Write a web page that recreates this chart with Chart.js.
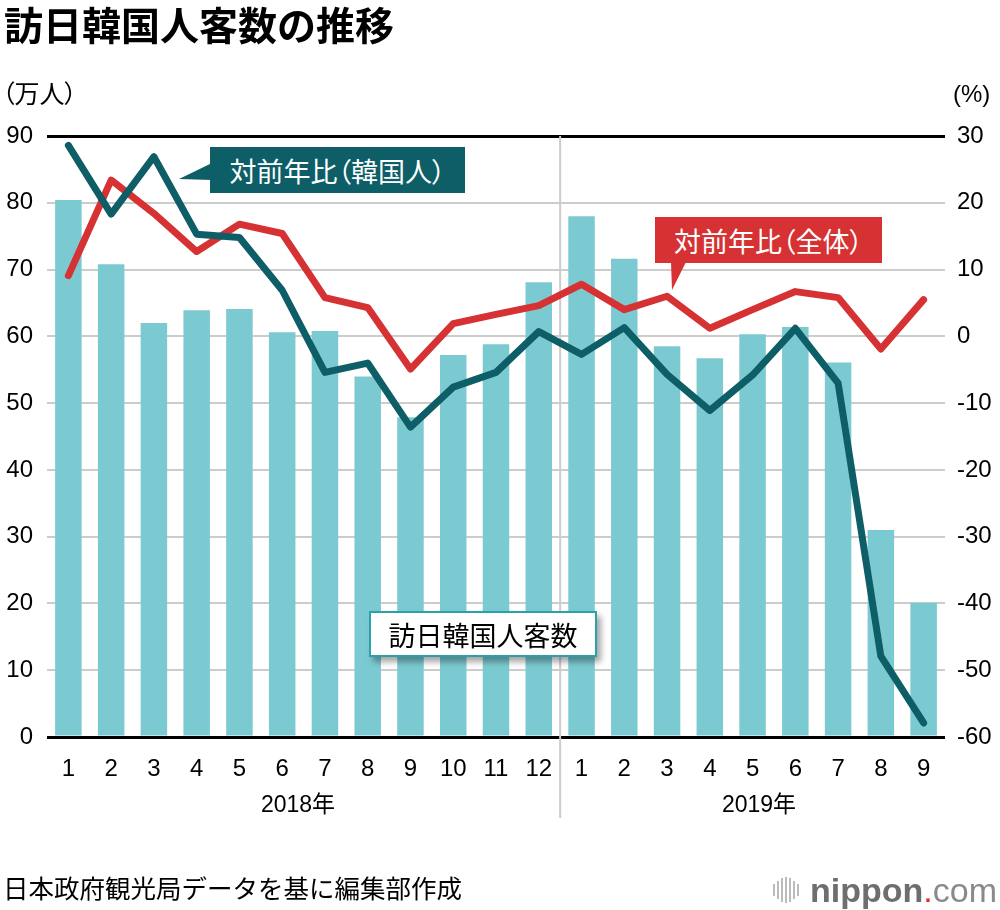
<!DOCTYPE html>
<html lang="ja">
<head>
<meta charset="UTF-8">
<script src="https://cdn.jsdelivr.net/npm/chart.js"></script>
<title>訪日韓国人客数の推移</title>
<style>
    body { margin: 0; background: #fff; }
    #page { position: relative; width: 1000px; height: 910px; overflow: hidden; font-family: "Noto Sans CJK JP", sans-serif; }
    #chart_canvas { position: absolute; left: 0; top: 0; }
    .txt { position: absolute; white-space: nowrap; color: #000; line-height: 1; }
    #title { left: 4px; top: 4px; font-size: 39px; font-weight: 700; }
    #unit_left { left: 2px; top: 80px; font-size: 25px; font-feature-settings: "palt"; }
    #unit_right { left: 953px; top: 82px; font-size: 24px; font-family: "Liberation Sans", sans-serif; }
    .year { top: 793px; font-size: 23px; font-family: "Liberation Sans", "Noto Sans CJK JP", sans-serif; transform: translateX(-50%); }
    #footer { left: 3px; top: 874px; font-size: 25.5px; }
    .box { position: absolute; display: flex; align-items: center; justify-content: center; font-size: 27px; line-height: 1; white-space: nowrap; font-feature-settings: "palt"; }
    #korea_box { left: 210px; top: 147px; width: 255px; height: 46px; background: #0d5e66; color: #fff; }
    #total_box { left: 655px; top: 217px; width: 227px; height: 46px; background: #d63133; color: #fff; }
    #visitors_box { left: 369px; top: 611px; width: 224px; height: 42px; background: #fff; border: 2px solid #2aa2ac; font-size: 27px; font-feature-settings: normal; box-shadow: 4px 5px 6px rgba(0,0,0,0.35); }
    .pointer { position: absolute; }
    #logo { position: absolute; left: 773px; top: 872px; height: 36px; display: flex; align-items: center; }
    #logo .bars { display: flex; align-items: center; gap: 2px; margin-right: 11px; }
    #logo .bars span { display: block; width: 2px; background: #bbb; }
    #logo .word { font-family: "Liberation Sans", sans-serif; font-size: 34px; line-height: 1; }
</style>
</head>
<body>
<div id="page">
    <canvas id="chart_canvas" width="1000" height="910"></canvas>

    <div class="txt" id="title">訪日韓国人客数の推移</div>
    <div class="txt" id="unit_left">（万人）</div>
    <div class="txt" id="unit_right">(%)</div>
    <div class="txt year" style="left: 298px;">2018年</div>
    <div class="txt year" style="left: 759px;">2019年</div>
    <div class="txt" id="footer">日本政府観光局データを基に編集部作成</div>

    <svg class="pointer" style="left: 0; top: 0;" width="1000" height="910">
        <polygon points="179,179 212,163 212,180" fill="#0d5e66" />
        <polygon points="671,262 686,262 672,290" fill="#d63133" />
    </svg>
    <div class="box" id="korea_box">対前年比（韓国人）</div>
    <div class="box" id="total_box">対前年比（全体）</div>
    <div class="box" id="visitors_box">訪日韓国人客数</div>

    <div id="logo">
        <div class="bars">
            <span style="height: 12px"></span>
            <span style="height: 18px"></span>
            <span style="height: 24px"></span>
            <span style="height: 26px"></span>
            <span style="height: 24px"></span>
            <span style="height: 18px"></span>
            <span style="height: 12px"></span>
        </div>
        <span class="word" style="font-weight: 700; color: #6e6e6e;">nippon</span><span class="word" style="color: #e8262c;">.</span><span class="word" style="color: #8a8a8a;">com</span>
    </div>
</div>

<script>
    // Month labels (2018/1 .. 2019/9)
    const months = ['1', '2', '3', '4', '5', '6', '7', '8', '9', '10', '11', '12',
                    '1', '2', '3', '4', '5', '6', '7', '8', '9'];

    // Korean visitors to Japan (10,000 people)
    const visitors = [80.4, 70.8, 62.0, 63.9, 64.1, 60.6, 60.8, 54.0, 47.9, 57.2, 58.8, 68.1,
                      78.0, 71.6, 58.5, 56.7, 60.3, 61.4, 56.1, 31.0, 20.1];

    // Year-on-year change, Korean visitors (%)
    const korea_yoy = [28.6, 18.3, 26.9, 15.3, 14.8, 6.9, -5.4, -4.0, -13.6, -7.6, -5.4, 0.7,
                       -2.7, 1.3, -5.7, -11.1, -5.8, 1.2, -7.0, -47.9, -57.9];

    // Year-on-year change, all visitors (%)
    const total_yoy = [9.1, 23.4, 18.4, 12.7, 16.8, 15.4, 5.8, 4.3, -4.9, 1.9, 3.3, 4.6,
                       7.8, 4.0, 6.0, 1.2, 4.0, 6.7, 5.8, -1.9, 5.5];

    const TEAL = '#0d5e66', RED = '#d63133', BAR = '#7ccad1';
    const tick_font = { family: '"Liberation Sans", Arial, sans-serif', size: 24 };

    // Vertical line between the two years
    const year_separator = {
        id: 'year_separator',
        beforeDatasetsDraw(chart) {
            const ctx = chart.ctx;
            const x = chart.scales.x.getPixelForValue(11.5);
            ctx.save();
            ctx.strokeStyle = '#cccccc';
            ctx.lineWidth = 2;
            ctx.beginPath();
            ctx.moveTo(x, chart.chartArea.top);
            ctx.lineTo(x, 818);
            ctx.stroke();
            ctx.restore();
        }
    };

    const ctx = document.getElementById('chart_canvas').getContext('2d');
    const chart = new Chart(ctx, {
        type: 'bar',
        data: {
            labels: months,
            datasets: [{
                type: 'line',
                label: '対前年比（韓国人）',
                data: korea_yoy,
                yAxisID: 'y1',
                borderColor: TEAL,
                borderWidth: 7,
                borderCapStyle: 'round',
                borderJoinStyle: 'round',
                pointRadius: 0,
                tension: 0,
                order: 0
            }, {
                type: 'line',
                label: '対前年比（全体）',
                data: total_yoy,
                yAxisID: 'y1',
                borderColor: RED,
                borderWidth: 7,
                borderCapStyle: 'round',
                borderJoinStyle: 'round',
                pointRadius: 0,
                tension: 0,
                order: 1
            }, {
                label: '訪日韓国人客数',
                data: visitors,
                yAxisID: 'y',
                backgroundColor: BAR,
                categoryPercentage: 1,
                barPercentage: 0.62,
                order: 2
            }]
        },
        options: {
            responsive: false,
            animation: false,
            devicePixelRatio: 1,
            layout: { padding: { top: 136, left: 0, right: 0, bottom: 0 } },
            plugins: {
                legend: { display: false },
                tooltip: { enabled: false }
            },
            scales: {
                x: {
                    grid: { display: false },
                    border: { display: false },
                    ticks: { color: '#000', font: tick_font, padding: 10, maxRotation: 0, autoSkip: false },
                    afterFit(scale) { scale.height = 173; }
                },
                y: {
                    position: 'left',
                    min: 0,
                    max: 90,
                    ticks: { stepSize: 10, color: '#000', font: tick_font, padding: 14 },
                    grid: {
                        drawTicks: false,
                        color: (c) => (c.tick.value === 0 || c.tick.value === 90) ? '#000' : '#cccccc',
                        lineWidth: (c) => (c.tick.value === 0 || c.tick.value === 90) ? 3 : 2
                    },
                    border: { display: false },
                    afterFit(scale) { scale.width = 47; }
                },
                y1: {
                    position: 'right',
                    min: -60,
                    max: 30,
                    ticks: { stepSize: 10, color: '#000', font: tick_font, padding: 12 },
                    grid: { display: false, drawTicks: false },
                    border: { display: false },
                    afterFit(scale) { scale.width = 55; }
                }
            }
        },
        plugins: [year_separator]
    });
</script>
</body>
</html>
